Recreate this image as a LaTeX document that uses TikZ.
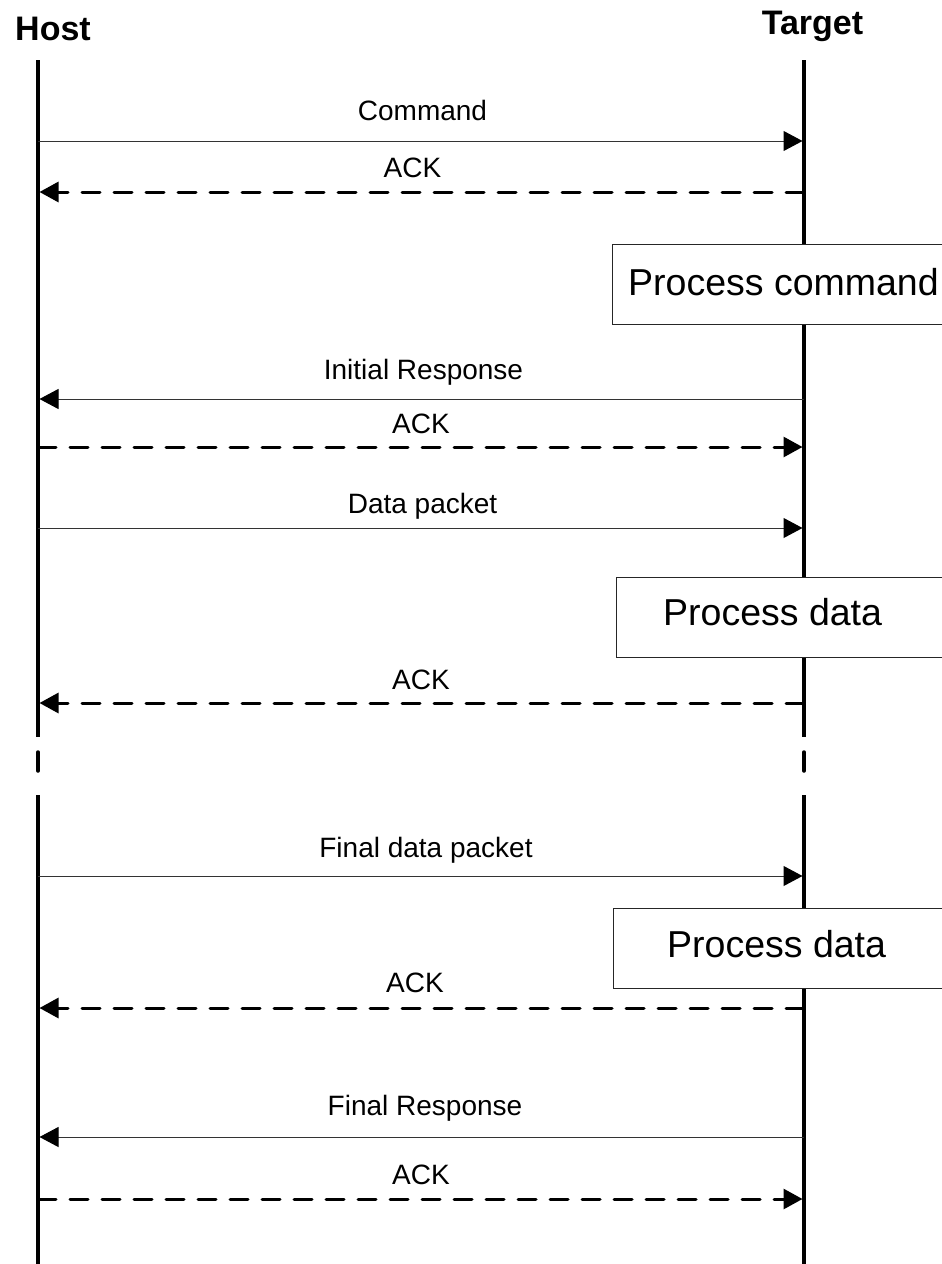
\documentclass[tikz,border=0pt]{standalone}
\usepackage{fontspec}
\setmainfont{Liberation Sans}
\usetikzlibrary{arrows.meta}
\begin{document}
\begin{tikzpicture}[x=1pt,y=-1pt,
  lifeline/.style={line width=3.5pt},
  brk/.style={line width=3.5pt, line cap=round},
  msg/.style={line width=1pt, draw=black!80, -{Triangle[length=19pt,width=20pt,color=black]}, shorten >=1.5pt},
  ackline/.style={line width=3pt, dash pattern=on 18pt off 14pt, line cap=round, -{Triangle[length=19pt,width=20pt,line cap=butt]}, shorten >=1.5pt},
  lbl/.style={font=\fontsize{28}{30}\selectfont, anchor=base, inner sep=0pt},
  head/.style={font=\bfseries\fontsize{34}{36}\selectfont, anchor=base, inner sep=0pt},
  procbox/.style={draw=black!85, fill=white, line width=1pt, anchor=north west, minimum height=80pt, inner sep=0pt},
  proctext/.style={font=\fontsize{37.5}{40}\selectfont, anchor=base west, inner sep=0pt}]
\useasboundingbox (0,0) rectangle (942,1264);

% headers
\node[head] (host) at (53,40) {Host};
\node[head] (target) at (812.5,34) {Target};

% lifelines
\coordinate (hA) at (38,60);   \coordinate (hB) at (38,737);
\coordinate (hC) at (38,752);  \coordinate (hD) at (38,771);
\coordinate (hE) at (38,795);  \coordinate (hF) at (38,1270);
\coordinate (tA) at (804,60);  \coordinate (tB) at (804,737);
\coordinate (tC) at (804,752); \coordinate (tD) at (804,771);
\coordinate (tE) at (804,795); \coordinate (tF) at (804,1270);
\draw[lifeline] (hA) -- (hB);
\draw[brk] (hC) -- (hD);
\draw[lifeline] (hE) -- (hF);
\draw[lifeline] (tA) -- (tB);
\draw[brk] (tC) -- (tD);
\draw[lifeline] (tE) -- (tF);

% message end points
\foreach \n/\y in {1/141,2/192,3/399,4/447,5/528,6/703,7/876,8/1008,9/1137,10/1199}{
  \coordinate (h\n) at (38,\y);
  \coordinate (t\n) at (804,\y);
}

% messages
\node[lbl] (l1) at (422.5,120) {Command};
\draw[msg] (h1) -- (t1);
\node[lbl] (l2) at (412.5,177) {ACK};
\draw[ackline] (t2) -- (h2);

\node[procbox, minimum width=333pt] (box1) at (612,244) {};
\node[proctext] (p1) at (628,295) {Process command};

\node[lbl] (l3) at (423.5,379) {Initial Response};
\draw[msg] (t3) -- (h3);
\node[lbl] (l4) at (421,433) {ACK};
\draw[ackline] (h4) -- (t4);
\node[lbl] (l5) at (422.5,513) {Data packet};
\draw[msg] (h5) -- (t5);

\node[procbox, minimum width=329pt] (box2) at (616,577) {};
\node[proctext] (p2) at (663,625) {Process data};

\node[lbl] (l6) at (421,689) {ACK};
\draw[ackline] (t6) -- (h6);

\node[lbl] (l7) at (426,857) {Final data packet};
\draw[msg] (h7) -- (t7);

\node[procbox, minimum width=332pt] (box3) at (613,908) {};
\node[proctext] (p3) at (667,957) {Process data};

\node[lbl] (l8) at (415,992) {ACK};
\draw[ackline] (t8) -- (h8);
\node[lbl] (l9) at (425,1115) {Final Response};
\draw[msg] (t9) -- (h9);
\node[lbl] (l10) at (421,1184) {ACK};
\draw[ackline] (h10) -- (t10);
\end{tikzpicture}
\end{document}
